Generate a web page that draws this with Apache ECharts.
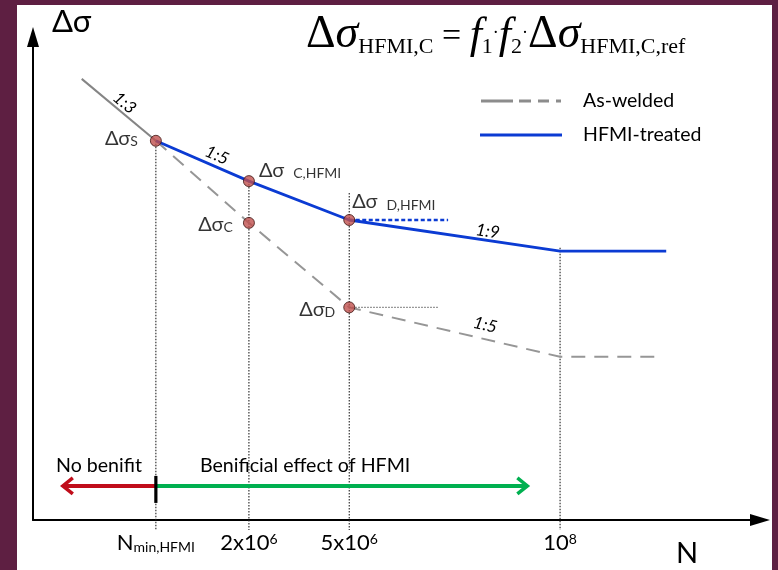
<!DOCTYPE html>
<html>
<head>
<meta charset="utf-8">
<title>S-N curve: as-welded vs HFMI-treated</title>
<script src="https://cdn.jsdelivr.net/npm/echarts@6/dist/echarts.min.js"></script>
<style>
  html, body { margin: 0; padding: 0; width: 778px; height: 570px; background: #5e1f42; overflow: hidden; }
  #sheet { position: absolute; left: 17px; top: 5px; width: 755px; height: 565px; background: #ffffff; }
  #chart { position: absolute; left: 0; top: 0; width: 778px; height: 570px; }
</style>
</head>
<body>
<div id="sheet"></div>
<div id="chart"></div>
<script>
// Schematic S-N diagram. Both axes use relative units (0-100): N grows to the right
// on a qualitative log scale, stress range grows upward.

// Named cycle counts marked on the N axis
const nTickPos = [16.9, 29.7, 43.5, 72.5];
const nTickLabels = ['{n|N}{sub|min,HFMI}', '{n|2x10}{sup|6}', '{n|5x10}{sup|6}', '{n|10}{sup|8}'];

// As-welded curve: slope 1:3 above the knee, dashed 1:3 / 1:5 / cut-off below it
const asWeldedUpper = [[6.7, 91.9], [16.9, 79.0]];
const asWeldedLower = [[16.9, 79.0], [29.7, 61.9], [43.5, 44.3], [72.5, 34.0], [86.1, 34.0]];

// HFMI-treated curve: 1:5, then 1:9, then cut-off
const hfmiTreated = [[16.9, 79.0], [29.7, 70.6], [43.5, 62.5], [72.5, 56.0], [87.1, 56.0]];

// Characteristic points
const keyPoints = [[16.9, 79.0], [29.7, 70.6], [29.7, 61.9], [43.5, 62.5], [43.5, 44.3]];
const keyPointNames = ['{g|Δσ}{s|S}', '{g|Δσ}{w|C,HFMI}', '{g|Δσ}{s|C}', '{g|Δσ}{w|D,HFMI}', '{g|Δσ}{s|D}'];

// Vertical guides from the curve down through the N axis
const dropLines = [[16.9, 79.0], [29.7, 70.6], [43.5, 68.1], [72.5, 56.7]];

// Horizontal reference levels at the two fatigue limits
const hfmiDLevel = [[43.5, 62.5], [57.1, 62.5]];
const weldDLevel = [[43.5, 44.3], [55.8, 44.3]];

// Range arrows below the curves: [from N, to N, level]
const rangeArrows = [[16.9, 4.1, 7.1], [16.9, 68.0, 7.1]];
const rangeNames = ['No benifit', 'Benificial effect of HFMI'];

// Slope ratios written along the curve segments
const slopeRatios = ['1:3', '1:5', '1:9', '1:5'];

const SANS = 'Lato, "Open Sans", sans-serif';
const SERIF = '"Liberation Serif", "DejaVu Serif", serif';
const BLUE = '#0b3bd3';
const GREY = '#8c8c8c';
const RED = '#c00d1a';
const GREEN = '#00b050';

const chart = echarts.init(document.getElementById('chart'), null, { renderer: 'canvas' });

const pointLabelPlacement = [
  { position: 'left', distance: 12, offset: [0, -2] },
  { position: 'right', distance: 4, offset: [0, -11] },
  { position: 'left', distance: 10, offset: [0, 2] },
  { position: 'right', distance: 0, offset: [-3, -18] },
  { position: 'left', distance: 8, offset: [0, 2] }
];

const option = {
  backgroundColor: 'transparent',
  animation: false,
  grid: { left: 33, right: 18, top: 40, bottom: 50, containLabel: false },
  legend: {
    orient: 'vertical',
    left: 475,
    top: 86,
    itemGap: 14,
    itemWidth: 82,
    itemHeight: 3,
    selectedMode: false,
    textStyle: { fontFamily: SANS, fontSize: 19.5, color: '#000', padding: [0, 0, 0, 16] },
    data: [
      { name: 'As-welded', icon: 'path://M0,0H32V3H0Z M38,0H50V3H38Z M57,0H68V3H57Z M75,0H80V3H75Z', itemStyle: { color: GREY } },
      { name: 'HFMI-treated', icon: 'path://M0,0H83V3H0Z', itemStyle: { color: BLUE } }
    ]
  },
  xAxis: {
    type: 'value', min: 0, max: 100,
    axisLine: { show: true, lineStyle: { color: '#000', width: 2 }, symbol: ['none', 'triangle'], symbolSize: [12, 20] },
    axisTick: { show: false },
    splitLine: { show: false },
    axisLabel: {
      show: true,
      customValues: nTickPos,
      margin: 12,
      color: '#000',
      formatter: function (v) { return nTickLabels[nTickPos.indexOf(v)] || ''; },
      rich: {
        n: { fontFamily: SANS, fontSize: 22, color: '#000' },
        sub: { fontFamily: SANS, fontSize: 14, color: '#000', verticalAlign: 'bottom' },
        sup: { fontFamily: SANS, fontSize: 14, color: '#000', verticalAlign: 'top', lineHeight: 12 }
      }
    },
    name: 'N',
    nameLocation: 'end',
    nameGap: -73,
    nameTextStyle: { fontFamily: SANS, fontSize: 29, color: '#000', align: 'center', verticalAlign: 'top', padding: [19, 0, 0, 0] }
  },
  yAxis: {
    type: 'value', min: 0, max: 100,
    axisLine: { show: true, lineStyle: { color: '#000', width: 2 }, symbol: ['none', 'triangle'], symbolSize: [12, 20], symbolOffset: [0, 3] },
    axisTick: { show: false },
    splitLine: { show: false },
    axisLabel: { show: false },
    name: 'Δσ',
    nameLocation: 'end',
    nameGap: 18,
    nameTextStyle: { fontFamily: SANS, fontSize: 31, color: '#000', align: 'left', verticalAlign: 'middle', padding: [0, 0, 0, 19] }
  },
  series: [
    {
      name: 'As-welded', type: 'line', data: asWeldedUpper, symbol: 'none', z: 2,
      lineStyle: { color: '#858585', width: 2 }
    },
    {
      name: 'As-welded', type: 'line', data: asWeldedLower, symbol: 'none', z: 2,
      lineStyle: { color: '#969696', width: 2, type: [14, 9] }
    },
    {
      name: 'HFMI-treated', type: 'line', data: hfmiTreated, symbol: 'none', z: 3,
      lineStyle: { color: BLUE, width: 2.8 }
    },
    {
      type: 'line', data: hfmiDLevel, symbol: 'none', z: 3,
      lineStyle: { color: BLUE, width: 2.6, type: [4, 2.5] }
    },
    {
      type: 'line', data: weldDLevel, symbol: 'none', z: 2,
      lineStyle: { color: '#777', width: 1.2, type: [1.5, 1.5] }
    },
    {
      // dotted drop lines from each curve point to just below the N axis
      type: 'custom', data: dropLines, z: 1, silent: true,
      renderItem: function (params, api) {
        const top = api.coord([api.value(0), api.value(1)]);
        const base = api.coord([api.value(0), 0]);
        return {
          type: 'line',
          shape: { x1: top[0], y1: top[1], x2: top[0], y2: base[1] + 10 },
          style: { stroke: '#222', lineWidth: 1.1, lineDash: [1.5, 1.5] }
        };
      }
    },
    {
      // range arrows with open chevron heads
      type: 'custom', data: rangeArrows, z: 4, silent: true,
      encode: { x: [0, 1], y: 2 },
      renderItem: function (params, api) {
        const p0 = api.coord([api.value(0), api.value(2)]);
        const p1 = api.coord([api.value(1), api.value(2)]);
        const dir = p1[0] > p0[0] ? 1 : -1;
        const color = params.dataIndex === 0 ? RED : GREEN;
        return {
          type: 'group',
          children: [
            { type: 'line', shape: { x1: p0[0], y1: p0[1], x2: p1[0] - dir * 1.5, y2: p1[1] },
              style: { stroke: color, lineWidth: 4 } },
            { type: 'polyline',
              shape: { points: [[p1[0] - dir * 10, p1[1] - 8], [p1[0], p1[1]], [p1[0] - dir * 10, p1[1] + 8]] },
              style: { stroke: color, lineWidth: 3.5, fill: null, lineJoin: 'miter' } }
          ]
        };
      }
    },
    {
      // boundary mark at N_min,HFMI
      type: 'custom', data: [[nTickPos[0], rangeArrows[0][2]]], z: 5, silent: true,
      renderItem: function (params, api) {
        const p = api.coord([api.value(0), api.value(1)]);
        return {
          type: 'line',
          shape: { x1: p[0], y1: p[1] - 10, x2: p[0], y2: p[1] + 17 },
          style: { stroke: '#000', lineWidth: 3.2 }
        };
      }
    },
    {
      type: 'scatter', z: 6,
      symbol: 'circle', symbolSize: 11,
      itemStyle: { color: '#c0504d', borderColor: '#3d1410', borderWidth: 1 },
      data: keyPoints.map(function (pt, i) {
        return { value: pt, label: pointLabelPlacement[i] };
      }),
      label: {
        show: true,
        color: '#000',
        formatter: function (p) { return keyPointNames[p.dataIndex]; },
        rich: {
          g: { fontFamily: SANS, fontSize: 20, color: '#000' },
          s: { fontFamily: SANS, fontSize: 14, color: '#000', verticalAlign: 'bottom' },
          w: { fontFamily: SANS, fontSize: 14, color: '#000', verticalAlign: 'bottom', padding: [0, 0, 0, 9] }
        }
      }
    }
  ]
};

chart.setOption(option);

// Slope ratios sit beside their segments, rotated to follow them
const slopeSpecs = [
  { series: asWeldedUpper, seg: 0, t: 0.5, off: 9 },
  { series: hfmiTreated, seg: 0, t: 0.61, off: 11 },
  { series: hfmiTreated, seg: 2, t: 0.65, off: 9 },
  { series: asWeldedLower, seg: 2, t: 0.63, off: 14 }
];

const graphics = slopeSpecs.map(function (s, i) {
  const a = chart.convertToPixel({ gridIndex: 0 }, s.series[s.seg]);
  const b = chart.convertToPixel({ gridIndex: 0 }, s.series[s.seg + 1]);
  const dx = b[0] - a[0], dy = b[1] - a[1];
  const len = Math.sqrt(dx * dx + dy * dy);
  const nx = dy / len, ny = -dx / len;
  return {
    type: 'text',
    x: a[0] + dx * s.t + nx * s.off,
    y: a[1] + dy * s.t + ny * s.off,
    rotation: -Math.atan2(dy, dx),
    style: {
      text: slopeRatios[i], fontFamily: SANS, fontSize: 17, fontStyle: 'italic',
      fill: '#000', align: 'center', verticalAlign: 'middle'
    },
    silent: true
  };
});

// Range captions above the arrows
graphics.push(
  { type: 'text', x: 56, y: 466, silent: true,
    style: { text: rangeNames[0], fontFamily: SANS, fontSize: 19.6, fill: '#000', verticalAlign: 'middle' } },
  { type: 'text', x: 200, y: 466, silent: true,
    style: { text: rangeNames[1], fontFamily: SANS, fontSize: 19.6, fill: '#000', verticalAlign: 'middle' } }
);

// Fatigue class formula
graphics.push({
  type: 'text', x: 306, y: 58, silent: true,
  style: {
    text: '{D|Δ}{s|σ}{sb|HFMI,C}{eq| = }{f|f}{n|1}{dt|·}{f|f}{n|2}{dt|·}{D|Δ}{s|σ}{sb|HFMI,C,ref}',
    verticalAlign: 'bottom',
    rich: {
      D: { fontFamily: SERIF, fontSize: 46, fill: '#000', verticalAlign: 'bottom' },
      s: { fontFamily: SERIF, fontSize: 46, fontStyle: 'italic', fill: '#000', verticalAlign: 'bottom' },
      sb: { fontFamily: SERIF, fontSize: 22, fill: '#000', verticalAlign: 'bottom' },
      eq: { fontFamily: SERIF, fontSize: 34, fill: '#000', verticalAlign: 'bottom', padding: [0, 0, 4, 0] },
      f: { fontFamily: SERIF, fontSize: 44, fontStyle: 'italic', fill: '#000', verticalAlign: 'bottom' },
      n: { fontFamily: SERIF, fontSize: 22, fill: '#000', verticalAlign: 'bottom' },
      dt: { fontFamily: SERIF, fontSize: 18, fill: '#000', verticalAlign: 'bottom', padding: [0, 0, 16, 0] }
    }
  }
});

chart.setOption({ graphic: graphics });
</script>
</body>
</html>
